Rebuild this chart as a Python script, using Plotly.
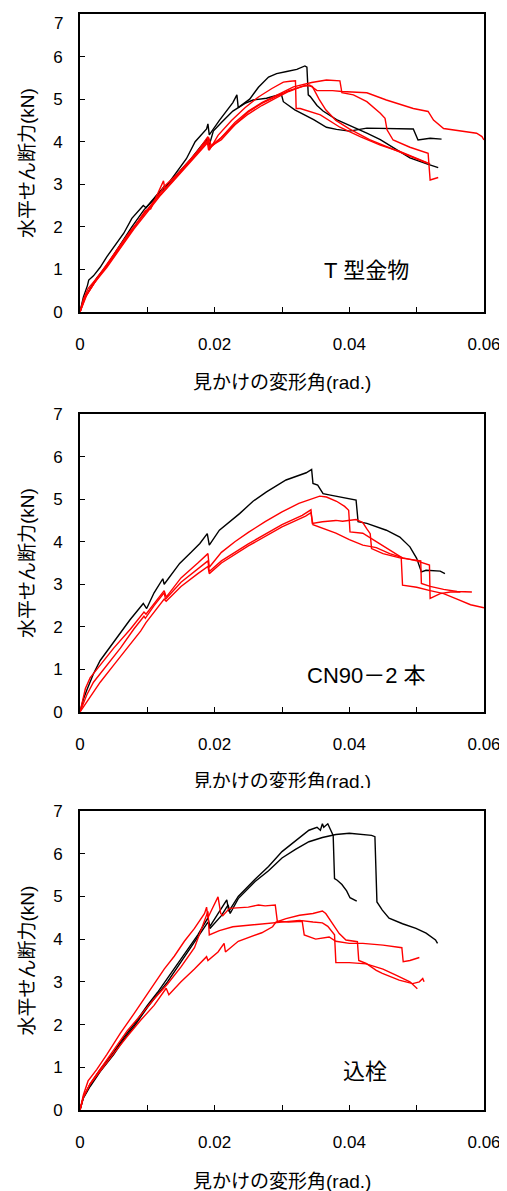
import plotly.graph_objects as go

# ---------------- Panel 1 : T型金物 ----------------
p1_k1_x = [0, 0.0005, 0.0011, 0.0013, 0.002, 0.003, 0.004, 0.0054, 0.0065, 0.0077, 0.0085, 0.0094, 0.0098, 0.0114, 0.0128, 0.0135, 0.0158, 0.0171, 0.0188, 0.019, 0.0192, 0.0207, 0.0227, 0.0233, 0.0235, 0.0252, 0.0265, 0.028, 0.0292, 0.0307, 0.0322, 0.0334, 0.0337, 0.0339, 0.0342, 0.0352, 0.0361, 0.0381, 0.0406, 0.0426, 0.0446, 0.0465, 0.049, 0.0515, 0.0532]
p1_k1_y = [0, 0.35, 0.62, 0.75, 0.85, 1.05, 1.3, 1.6, 1.85, 2.2, 2.35, 2.5, 2.45, 2.75, 2.95, 3.1, 3.6, 4.0, 4.3, 4.42, 4.16, 4.5, 4.92, 5.1, 4.8, 5.0, 5.28, 5.52, 5.6, 5.65, 5.7, 5.78, 5.75, 5.1, 5.06, 4.85, 4.72, 4.52, 4.35, 4.2, 4.05, 3.86, 3.62, 3.48, 3.39]

p1_k2_x = [0, 0.0006, 0.0015, 0.0025, 0.004, 0.006, 0.0077, 0.0095, 0.011, 0.0125, 0.0128, 0.0145, 0.0165, 0.018, 0.0188, 0.0192, 0.0198, 0.021, 0.0227, 0.0245, 0.0257, 0.0277, 0.0296, 0.0299, 0.0302, 0.0319, 0.0347, 0.0366, 0.0381, 0.040, 0.0426, 0.0495, 0.0502, 0.052, 0.0537]
p1_k2_y = [0, 0.3, 0.55, 0.8, 1.1, 1.6, 2.0, 2.4, 2.65, 2.95, 2.9, 3.25, 3.6, 3.9, 4.05, 3.92, 4.25, 4.45, 4.72, 4.9, 4.98, 5.02, 5.1, 5.12, 4.94, 4.75, 4.52, 4.34, 4.29, 4.25, 4.32, 4.3, 4.04, 4.08, 4.06]

p1_rA_x = [0, 0.0005, 0.0012, 0.0025, 0.004, 0.006, 0.008, 0.0097, 0.0105, 0.0124, 0.0126, 0.013, 0.0155, 0.0178, 0.019, 0.0192, 0.0205, 0.0225, 0.0245, 0.0265, 0.0285, 0.0302, 0.0312, 0.032, 0.0321, 0.0327, 0.0357, 0.0386, 0.0416, 0.0446, 0.0475, 0.0505, 0.052]
p1_rA_y = [0, 0.3, 0.55, 0.8, 1.08, 1.52, 1.98, 2.38, 2.42, 3.08, 2.9, 2.95, 3.4, 3.85, 4.12, 3.8, 4.15, 4.5, 4.8, 5.05, 5.25, 5.4, 5.42, 5.43, 4.78, 4.78, 4.63, 4.34, 4.12, 3.92, 3.77, 3.57, 3.48]

p1_rB_x = [0, 0.0008, 0.002, 0.0035, 0.0055, 0.0075, 0.0095, 0.0115, 0.0125, 0.0145, 0.0165, 0.0185, 0.019, 0.0193, 0.021, 0.023, 0.025, 0.027, 0.029, 0.0317, 0.0344, 0.0366, 0.0386, 0.0389, 0.0406, 0.0426, 0.0446, 0.0453, 0.0456, 0.0465, 0.049, 0.0517, 0.052, 0.0532]
p1_rB_y = [0, 0.35, 0.65, 1.0, 1.45, 1.9, 2.3, 2.7, 2.95, 3.25, 3.6, 3.95, 4.05, 3.85, 4.1, 4.45, 4.72, 4.92, 5.08, 5.29, 5.39, 5.45, 5.43, 5.15, 5.1, 4.94, 4.67, 4.55, 4.28, 4.04, 3.87, 3.73, 3.1, 3.16]

p1_rC_x = [0, 0.001, 0.0022, 0.004, 0.006, 0.008, 0.01, 0.012, 0.014, 0.016, 0.018, 0.0188, 0.0191, 0.0195, 0.021, 0.023, 0.025, 0.027, 0.029, 0.031, 0.033, 0.0341, 0.0352, 0.0375, 0.0389, 0.0426, 0.0455, 0.0495, 0.0517, 0.0525, 0.054, 0.0589, 0.0597, 0.06]
p1_rC_y = [0, 0.4, 0.7, 1.05, 1.5, 1.95, 2.35, 2.75, 3.1, 3.45, 3.8, 3.95, 4.1, 3.9, 4.05, 4.4, 4.65, 4.85, 5.02, 5.18, 5.3, 5.33, 5.2, 5.2, 5.18, 5.15, 4.98, 4.78, 4.71, 4.51, 4.31, 4.2, 4.12, 4.04]

p1_rD_x = [0, 0.0007, 0.0018, 0.003, 0.005, 0.007, 0.009, 0.011, 0.013, 0.015, 0.017, 0.0189, 0.0191, 0.0194, 0.021, 0.023, 0.025, 0.027, 0.029, 0.031, 0.0335, 0.0345, 0.0355, 0.0365, 0.038, 0.040, 0.043, 0.046, 0.049, 0.0515]
p1_rD_y = [0, 0.35, 0.6, 0.9, 1.35, 1.8, 2.2, 2.6, 2.95, 3.3, 3.65, 4.0, 3.8, 3.9, 4.1, 4.4, 4.7, 4.9, 5.05, 5.2, 5.32, 5.3, 5.0, 4.75, 4.5, 4.3, 4.05, 3.85, 3.65, 3.5]

# ---------------- Panel 2 : CN90－2本 ----------------
p2_k1_x = [0, 0.0005, 0.001, 0.002, 0.003, 0.0054, 0.0074, 0.0094, 0.0099, 0.011, 0.0123, 0.0125, 0.0148, 0.0165, 0.0178, 0.0189, 0.0192, 0.0207, 0.0237, 0.0257, 0.0277, 0.0306, 0.0326, 0.0336, 0.0344, 0.0346, 0.0353, 0.0361, 0.037, 0.0396, 0.041, 0.0413, 0.0426, 0.0455, 0.0475, 0.049, 0.05, 0.0507, 0.0514, 0.0535, 0.0542]
p2_k1_y = [0, 0.3, 0.51, 0.9, 1.21, 1.72, 2.16, 2.55, 2.43, 2.8, 3.13, 3.0, 3.49, 3.75, 3.96, 4.19, 3.92, 4.27, 4.66, 4.95, 5.17, 5.45, 5.56, 5.62, 5.7, 5.37, 5.33, 5.13, 5.1, 5.02, 4.98, 4.47, 4.43, 4.27, 4.11, 3.88, 3.61, 3.29, 3.33, 3.31, 3.25]

p2_r1_x = [0, 0.0004, 0.0008, 0.0015, 0.003, 0.005, 0.0075, 0.0095, 0.0098, 0.011, 0.0125, 0.0128, 0.015, 0.0175, 0.019, 0.0192, 0.021, 0.023, 0.025, 0.0275, 0.03, 0.0325, 0.0345, 0.0356, 0.0366, 0.0381, 0.0393, 0.0399, 0.0401, 0.042, 0.044, 0.046, 0.0477, 0.0479, 0.05, 0.052, 0.054, 0.056, 0.058, 0.06]
p2_r1_y = [0, 0.3, 0.55, 0.8, 1.1, 1.5, 1.95, 2.35, 2.3, 2.55, 2.85, 2.7, 3.15, 3.5, 3.72, 3.4, 3.75, 4.0, 4.22, 4.47, 4.7, 4.9, 5.02, 5.07, 5.05, 4.95, 4.83, 4.74, 4.23, 4.2, 4.0, 3.8, 3.64, 2.98, 2.93, 2.85, 2.78, 2.65, 2.52, 2.45]

p2_r2_x = [0, 0.001, 0.002, 0.004, 0.006, 0.008, 0.0095, 0.0097, 0.011, 0.0125, 0.0127, 0.015, 0.0175, 0.019, 0.0192, 0.021, 0.025, 0.03, 0.033, 0.0343, 0.0345, 0.036, 0.038, 0.039, 0.041, 0.042, 0.0426, 0.0431, 0.0433, 0.045, 0.0475, 0.0506, 0.0507, 0.052, 0.054, 0.056, 0.0582]
p2_r2_y = [0, 0.4, 0.7, 1.1, 1.5, 1.95, 2.25, 2.2, 2.5, 2.8, 2.65, 3.05, 3.35, 3.55, 3.3, 3.55, 3.95, 4.4, 4.62, 4.75, 4.43, 4.47, 4.5, 4.48, 4.52, 4.45, 4.3, 4.19, 3.84, 3.72, 3.62, 3.55, 3.02, 2.95, 2.88, 2.83, 2.82]

p2_r3_x = [0, 0.0015, 0.003, 0.005, 0.007, 0.009, 0.0098, 0.011, 0.0125, 0.0128, 0.015, 0.0175, 0.019, 0.0192, 0.021, 0.025, 0.03, 0.0335, 0.0343, 0.0346, 0.036, 0.038, 0.04, 0.042, 0.044, 0.046, 0.048, 0.05, 0.0519, 0.052, 0.0535, 0.055, 0.0565]
p2_r3_y = [0, 0.35, 0.7, 1.1, 1.5, 1.9, 2.1, 2.35, 2.65, 2.6, 2.95, 3.25, 3.42, 3.25, 3.5, 3.9, 4.35, 4.6, 4.68, 4.4, 4.32, 4.2, 4.05, 3.92, 3.86, 3.72, 3.62, 3.55, 3.45, 2.67, 2.78, 2.82, 2.82]

# ---------------- Panel 3 : 込栓 ----------------
p3_k1_x = [0, 0.0005, 0.0015, 0.003, 0.005, 0.0065, 0.008, 0.01, 0.0115, 0.0126, 0.014, 0.0155, 0.0175, 0.019, 0.0193, 0.0205, 0.0218, 0.0221, 0.0235, 0.026, 0.028, 0.03, 0.032, 0.034, 0.0352, 0.0357, 0.036, 0.0362, 0.0368, 0.0372, 0.0376, 0.0378, 0.0382, 0.0389, 0.0396, 0.0401, 0.0411]
p3_k1_y = [0, 0.3, 0.6, 0.95, 1.35, 1.7, 2.0, 2.45, 2.75, 3.0, 3.3, 3.65, 4.1, 4.5, 4.3, 4.6, 4.92, 4.65, 5.0, 5.4, 5.7, 6.05, 6.3, 6.55, 6.62, 6.55, 6.7, 6.62, 6.7, 6.55, 6.43, 5.42, 5.38, 5.28, 5.13, 4.97, 4.89]

p3_k2_x = [0, 0.0005, 0.0015, 0.003, 0.005, 0.0065, 0.008, 0.01, 0.0115, 0.013, 0.0145, 0.016, 0.0178, 0.019, 0.0193, 0.021, 0.022, 0.0223, 0.0235, 0.026, 0.028, 0.03, 0.032, 0.034, 0.036, 0.0376, 0.038, 0.040, 0.042, 0.0433, 0.0438, 0.0441, 0.0449, 0.0459, 0.0479, 0.0499, 0.0514, 0.0528, 0.0531]
p3_k2_y = [0, 0.28, 0.55, 0.9, 1.3, 1.65, 1.95, 2.4, 2.7, 3.0, 3.35, 3.7, 4.1, 4.4, 4.25, 4.55, 4.8, 4.6, 4.95, 5.35, 5.6, 5.9, 6.1, 6.28, 6.38, 6.43, 6.45, 6.48, 6.46, 6.43, 6.4, 4.87, 4.68, 4.49, 4.36, 4.25, 4.14, 3.98, 3.9]

p3_r1_x = [0, 0.0005, 0.0012, 0.0025, 0.004, 0.006, 0.008, 0.0095, 0.011, 0.0125, 0.014, 0.0155, 0.017, 0.0185, 0.0188, 0.019, 0.0196, 0.0203, 0.0205, 0.0209, 0.0212, 0.0222, 0.025, 0.0265, 0.0275, 0.029, 0.0293, 0.031, 0.033, 0.0333, 0.035, 0.037, 0.038, 0.040, 0.042, 0.045, 0.0478, 0.048, 0.049, 0.0504]
p3_r1_y = [0, 0.35, 0.68, 0.95, 1.3, 1.8, 2.25, 2.6, 2.95, 3.3, 3.6, 3.95, 4.25, 4.6, 4.75, 4.5, 4.7, 4.95, 4.99, 4.6, 4.55, 4.72, 4.75, 4.8, 4.78, 4.8, 4.42, 4.4, 4.42, 4.1, 4.0, 4.05, 3.95, 3.9, 3.9, 3.86, 3.8, 3.47, 3.5, 3.57]

p3_r2_x = [0, 0.0005, 0.0015, 0.003, 0.005, 0.007, 0.009, 0.011, 0.013, 0.015, 0.017, 0.0188, 0.019, 0.0192, 0.0207, 0.0227, 0.0252, 0.0277, 0.0301, 0.0326, 0.0346, 0.036, 0.0368, 0.0378, 0.038, 0.040, 0.0425, 0.045, 0.047, 0.049, 0.0501]
p3_r2_y = [0, 0.3, 0.62, 0.95, 1.4, 1.85, 2.22, 2.6, 2.95, 3.35, 3.8, 4.6, 4.65, 4.1, 4.2, 4.29, 4.33, 4.36, 4.4, 4.44, 4.4, 4.38, 4.3, 4.1, 3.45, 3.45, 3.42, 3.3, 3.15, 3.0, 2.84]

p3_r3_x = [0, 0.0005, 0.0015, 0.003, 0.005, 0.007, 0.009, 0.011, 0.0128, 0.0132, 0.015, 0.017, 0.0188, 0.019, 0.0205, 0.0214, 0.0216, 0.0235, 0.0252, 0.027, 0.0286, 0.0291, 0.0306, 0.0326, 0.0346, 0.036, 0.0365, 0.0375, 0.0385, 0.0395, 0.0412, 0.0414, 0.0425, 0.044, 0.0449, 0.0474, 0.0494, 0.0504, 0.0509, 0.0511]
p3_r3_y = [0, 0.3, 0.6, 0.92, 1.32, 1.72, 2.1, 2.45, 2.85, 2.7, 3.0, 3.3, 3.59, 3.5, 3.7, 3.9, 3.7, 3.95, 4.05, 4.15, 4.29, 4.4, 4.48, 4.56, 4.6, 4.66, 4.6, 4.36, 4.13, 3.98, 3.94, 3.5, 3.43, 3.27, 3.2, 3.04, 2.96, 3.0, 3.08, 3.0]

# ---------------- labels ----------------
panel_labels = ["T 型金物", "CN90－2 本", "込栓"]
x_title = "見かけの変形角(rad.)"
y_title = "水平せん断力(kN)"
x_tickvals = [0, 0.01, 0.02, 0.03, 0.04, 0.05, 0.06]
x_ticktext = ["0", "", "0.02", "", "0.04", "", "0.06"]
y_tickvals = [0, 1, 2, 3, 4, 5, 6, 7]
y_ticktext = ["0", "1", "2", "3", "4", "5", "6", "7"]

FONT = "Liberation Sans, Noto Sans CJK JP, sans-serif"
BLACK = "#000000"
RED = "#ff0000"

panels = [
    ("x", "y", [(p1_k1_x, p1_k1_y, BLACK), (p1_k2_x, p1_k2_y, BLACK),
                (p1_rA_x, p1_rA_y, RED), (p1_rB_x, p1_rB_y, RED),
                (p1_rC_x, p1_rC_y, RED), (p1_rD_x, p1_rD_y, RED)]),
    ("x2", "y2", [(p2_k1_x, p2_k1_y, BLACK), (p2_r1_x, p2_r1_y, RED),
                  (p2_r2_x, p2_r2_y, RED), (p2_r3_x, p2_r3_y, RED)]),
    ("x3", "y3", [(p3_k1_x, p3_k1_y, BLACK), (p3_k2_x, p3_k2_y, BLACK),
                  (p3_r1_x, p3_r1_y, RED), (p3_r2_x, p3_r2_y, RED),
                  (p3_r3_x, p3_r3_y, RED)]),
]

fig = go.Figure()
for xa, ya, curves in panels:
    for cx, cy, col in curves:
        fig.add_trace(go.Scatter(x=cx, y=cy, mode="lines", xaxis=xa, yaxis=ya,
                                 line=dict(color=col, width=1.4),
                                 showlegend=False, hoverinfo="skip"))

# clipped x-axis title of the middle panel (partly hidden by the panel below)
fig.add_trace(go.Scatter(x=[0.5], y=[0.18], mode="text", text=[x_title],
                         textposition="middle center", cliponaxis=True,
                         textfont=dict(family=FONT, size=19, color="black"),
                         xaxis="x4", yaxis="y4", showlegend=False, hoverinfo="skip"))

# page has an 8px body margin; work in page pixel coordinates
OFF = 8
W, H = 507 - OFF, 1191 - OFF
PL, PR, PT, PB = 80, 484, 14, 1110          # plot area in page pixels
ML, MR, MT, MB = PL - OFF, W - (PR - OFF), PT - OFF, H - (PB - OFF)
PH = H - MT - MB
PW = W - ML - MR

def py2paper(py):
    return (PB - py) / PH

domains = [
    [py2paper(312), 1.0],
    [py2paper(712), py2paper(414)],
    [0.0, py2paper(811)],
]

xcommon = dict(range=[0, 0.06], tickvals=x_tickvals, ticktext=x_ticktext,
               ticks="inside", ticklen=5, tickwidth=1.3, tickcolor="black",
               showline=True, linecolor="black", linewidth=2, mirror=True,
               showgrid=False, zeroline=False, ticklabelstandoff=16,
               ticklabeloverflow="allow",
               tickfont=dict(family=FONT, size=17, color="black"))
ycommon = dict(range=[0, 7], tickvals=y_tickvals,
               ticks="inside", ticklen=5, tickwidth=1.3, tickcolor="black",
               showline=True, linecolor="black", linewidth=2, mirror=True,
               showgrid=False, zeroline=False, ticklabelstandoff=12,
               ticklabeloverflow="allow",
               tickfont=dict(family=FONT, size=17, color="black"))

layout = dict(width=W, height=H, margin=dict(l=ML, r=MR, t=MT, b=MB, autoexpand=False),
              paper_bgcolor="white", plot_bgcolor="white",
              font=dict(family=FONT, color="black"))
for i, dom in enumerate(domains):
    sfx = "" if i == 0 else str(i + 1)
    layout["xaxis" + sfx] = dict(xcommon, domain=[0, 1], anchor="y" + sfx)
    ttxt = y_ticktext[:-1] + [""] if i == 0 else y_ticktext
    layout["yaxis" + sfx] = dict(ycommon, domain=dom, anchor="x" + sfx, ticktext=ttxt)

layout["xaxis4"] = dict(domain=[0, 1], range=[0, 1], visible=False, anchor="y4", fixedrange=True)
layout["yaxis4"] = dict(domain=[py2paper(788), py2paper(760)], range=[0, 1], visible=False,
                        anchor="x4", fixedrange=True)

fig.update_layout(**layout)

annotations = []
# top "7" of first panel placed just inside the figure so it is not clipped
annotations.append(dict(text=y_ticktext[-1], xref="paper", yref="paper",
                        x=(64 - PL) / PW, y=1.0, xanchor="right", yanchor="top",
                        yshift=1, showarrow=False, borderpad=0,
                        font=dict(family=FONT, size=17, color="black")))
for i, dom in enumerate(domains):
    annotations.append(dict(text=y_title, xref="paper", yref="paper",
                            x=(27 - PL) / PW, y=(dom[0] + dom[1]) / 2,
                            textangle=-90, showarrow=False, xanchor="center", yanchor="middle",
                            font=dict(family=FONT, size=19, color="black")))
annotations.append(dict(text=x_title, xref="paper", yref="paper", x=0.5, y=py2paper(383),
                        showarrow=False, xanchor="center", yanchor="middle",
                        font=dict(family=FONT, size=19, color="black")))
annotations.append(dict(text=x_title, xref="paper", yref="paper", x=0.5, y=py2paper(1181),
                        showarrow=False, xanchor="center", yanchor="middle",
                        font=dict(family=FONT, size=19, color="black")))
label_pos = [(0.0425, 0.98, "x", "y"), (0.0425, 0.86, "x2", "y2"), (0.0424, 0.9, "x3", "y3")]
for (lx, ly, xr, yr), txt in zip(label_pos, panel_labels):
    annotations.append(dict(text=txt, xref=xr, yref=yr, x=lx, y=ly, showarrow=False,
                            xanchor="center", yanchor="middle",
                            font=dict(family=FONT, size=22, color="black")))
fig.update_layout(annotations=annotations)

fig.write_html("out.html")
